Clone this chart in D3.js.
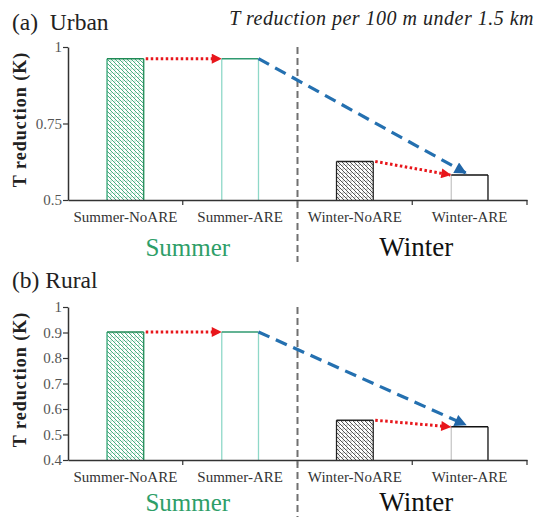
<!DOCTYPE html>
<html>
<head>
<meta charset="utf-8">
<script src="https://cdn.jsdelivr.net/npm/d3@7"></script>
</head>
<body style="margin:0;background:#fff">
<svg id="chart" width="537" height="517"></svg>
<script>
const categories = ['Summer-NoARE', 'Summer-ARE', 'Winter-NoARE', 'Winter-ARE']
const urbanValues = [0.962, 0.962, 0.626, 0.582]
const ruralValues = [0.902, 0.902, 0.556, 0.530]
const urbanTicks = [0.5, 0.75, 1]
const ruralTicks = [0.4, 0.5, 0.6, 0.7, 0.8, 0.9, 1]

const serif = 'Liberation Serif, DejaVu Serif, serif'
const svg = d3.select('#chart').attr('font-family', serif).style('display', 'block')
const defs = svg.append('defs')

// hatch patterns for the NoARE bars
function hatch(id, color) {
  const p = defs.append('pattern')
    .attr('id', id)
    .attr('patternUnits', 'userSpaceOnUse')
    .attr('width', 4).attr('height', 4)
  p.append('rect').attr('width', 4).attr('height', 4).attr('fill', '#fff')
  p.append('path')
    .attr('d', 'M-1,-1 L5,5 M-1,3 L1,5 M3,-1 L5,1')
    .attr('stroke', color).attr('stroke-width', 0.9)
  p.append('circle').attr('cx', 3).attr('cy', 1).attr('r', 0.5).attr('fill', color)
}
hatch('hatchGreen', '#35a574')
hatch('hatchGrey', '#444')

function marker(id, color, w, h) {
  defs.append('marker')
    .attr('id', id)
    .attr('viewBox', '0 0 10 10')
    .attr('refX', 9).attr('refY', 5)
    .attr('markerUnits', 'userSpaceOnUse')
    .attr('markerWidth', w).attr('markerHeight', h)
    .attr('orient', 'auto')
    .append('path').attr('d', 'M0,0 L10,5 L0,10 Z').attr('fill', color)
}
marker('arrRed', '#e8161b', 11, 10)
marker('arrBlue', '#2166a8', 13, 12)

const x = d3.scaleBand().domain(categories).range([68, 527]).padding(0)
const barW = x.bandwidth() * 0.32

const styles = [
  { fill: 'url(#hatchGreen)', top: '#1f8a55', side: '#1f8a55', left: '#3aa87a' },
  { fill: '#fff', top: '#2f9a70', side: '#8fd8c8', left: '#8fd8c8' },
  { fill: 'url(#hatchGrey)', top: '#222', side: '#222', left: '#222' },
  { fill: '#fff', top: '#111', side: '#111', left: '#c8c8c8' }
]

function label(g, text, size) {
  return g.append('text')
    .attr('font-family', serif)
    .style('font-family', serif)
    .style('font-size', size + 'px')
    .style('white-space', 'pre')
    .text(text)
}

function panel(opts) {
  const y = d3.scaleLinear().domain(opts.domain).range([opts.bottom, opts.top])
  const g = svg.append('g')

  // bars
  categories.forEach((c, i) => {
    const x0 = x(c) + (x.bandwidth() - barW) / 2
    const x1 = x0 + barW
    const yv = y(opts.values[i])
    const yb = y(opts.domain[0])
    g.append('rect')
      .attr('x', x0).attr('y', yv)
      .attr('width', barW).attr('height', yb - yv)
      .attr('fill', styles[i].fill)
    g.append('line').attr('x1', x0).attr('x2', x0).attr('y1', yv).attr('y2', yb)
      .attr('stroke', styles[i].left).attr('stroke-width', 1.3)
    g.append('line').attr('x1', x1).attr('x2', x1).attr('y1', yv).attr('y2', yb)
      .attr('stroke', styles[i].side).attr('stroke-width', 1.3)
    g.append('line').attr('x1', x0).attr('x2', x1).attr('y1', yv).attr('y2', yv)
      .attr('stroke', styles[i].top).attr('stroke-width', 1.5)
  })

  // y axis
  const yAxis = d3.axisLeft(y).tickValues(opts.ticks).tickSize(5).tickSizeOuter(0)
    .tickFormat(d => d === 1 ? '1' : String(d))
  const ya = g.append('g').attr('transform', 'translate(68,0)').call(yAxis)
  ya.attr('font-family', serif)
  ya.select('.domain').attr('stroke', '#333').attr('stroke-width', 1.5)
  ya.selectAll('.tick line').attr('stroke', '#333').attr('stroke-width', 1.2)
  ya.selectAll('.tick text').attr('fill', '#555').style('font-size', '15px').attr('x', -6)

  // x axis
  const xa = g.append('g').attr('transform', `translate(0,${opts.bottom})`)
    .call(d3.axisBottom(x).tickSize(0).tickPadding(11))
  xa.attr('font-family', serif)
  xa.select('.domain').attr('stroke', '#333').attr('stroke-width', 1.5)
  xa.selectAll('.tick text').attr('fill', '#333').style('font-size', '15px')
  // category boundary ticks
  const bounds = categories.slice(1).map(c => x(c)).concat([x.range()[1]])
  g.selectAll(null).data(bounds).enter().append('line')
    .attr('x1', d => d).attr('x2', d => d)
    .attr('y1', opts.bottom).attr('y2', opts.bottom + 5)
    .attr('stroke', '#333').attr('stroke-width', 1.2)

  // season divider
  g.append('line')
    .attr('x1', x(categories[2])).attr('x2', x(categories[2]))
    .attr('y1', opts.top).attr('y2', opts.dividerEnd)
    .attr('stroke', '#707070').attr('stroke-width', 2)
    .attr('stroke-dasharray', '7,4')

  // blue dashed arrow: Summer-ARE -> Winter-ARE
  const xs = x(categories[1]) + (x.bandwidth() + barW) / 2
  const xw = x(categories[3]) + x.bandwidth() / 2
  g.append('line')
    .attr('x1', xs).attr('y1', y(opts.values[1]))
    .attr('x2', xw - 4).attr('y2', y(opts.values[3]) - 2)
    .attr('stroke', '#2470b0').attr('stroke-width', 3.2)
    .attr('stroke-dasharray', '12,7')
    .attr('marker-end', 'url(#arrBlue)')

  // red dotted arrows: NoARE -> ARE
  ;[[0, 1], [2, 3]].forEach(([a, b]) => {
    const xa0 = x(categories[a]) + (x.bandwidth() + barW) / 2
    const xb0 = x(categories[b]) + (x.bandwidth() - barW) / 2
    g.append('line')
      .attr('x1', xa0 + 2).attr('y1', y(opts.values[a]))
      .attr('x2', xb0 - 1).attr('y2', y(opts.values[b]))
      .attr('stroke', '#e8161b').attr('stroke-width', 3)
      .attr('stroke-dasharray', '2.5,2.5')
      .attr('marker-end', 'url(#arrRed)')
  })

  // y label
  label(g, 'T reduction (K)', 18)
    .attr('transform', `translate(26,${(opts.top + opts.bottom) / 2 - 4}) rotate(-90)`)
    .attr('text-anchor', 'middle')
    .style('font-weight', 'bold')
    .style('letter-spacing', '1px')
    .attr('fill', '#222')

  // panel title
  label(g, opts.title, 23.5).attr('x', 12).attr('y', opts.titleY).attr('fill', '#222')

  // season labels
  label(g, 'Summer', 25)
    .attr('x', (x.range()[0] + x(categories[2])) / 2 + 5).attr('y', opts.seasonY)
    .attr('text-anchor', 'middle').attr('fill', '#2e9e68')
  label(g, 'Winter', 27)
    .attr('x', (x(categories[2]) + x.range()[1]) / 2 + 4).attr('y', opts.seasonY)
    .attr('text-anchor', 'middle').attr('fill', '#111')
}

panel({
  values: urbanValues, domain: [0.5, 1], ticks: urbanTicks,
  top: 47, bottom: 200, dividerEnd: 262,
  title: '(a)  Urban', titleY: 30, seasonY: 256
})
panel({
  values: ruralValues, domain: [0.4, 1], ticks: ruralTicks,
  top: 307, bottom: 460, dividerEnd: 517,
  title: '(b) Rural', titleY: 288, seasonY: 511
})

label(svg, 'T reduction per 100 m under 1.5 km', 20)
  .attr('x', 534).attr('y', 25)
  .attr('text-anchor', 'end')
  .style('font-style', 'italic')
  .style('letter-spacing', '0.5px')
  .attr('fill', '#222')
</script>
</body>
</html>
